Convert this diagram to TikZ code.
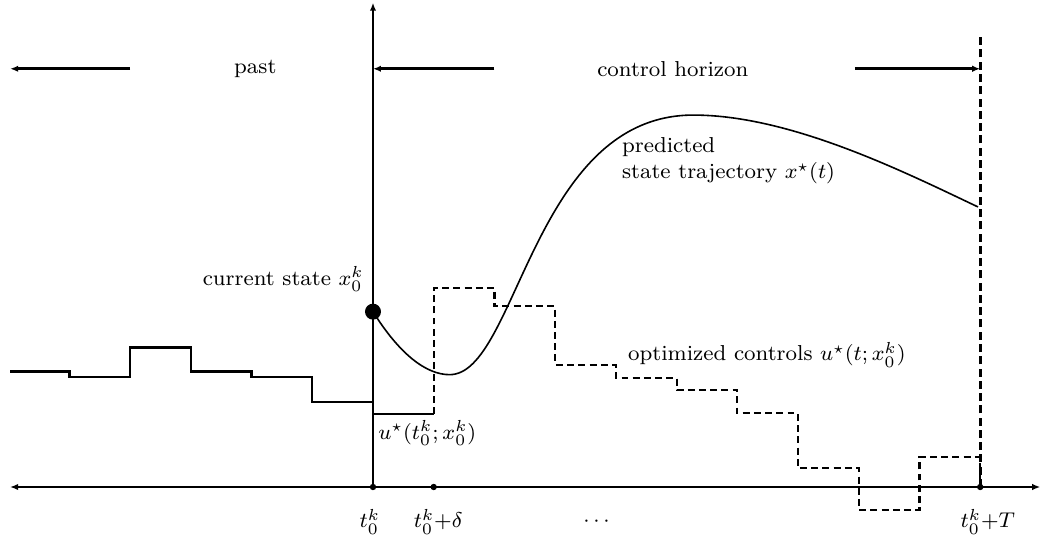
\documentclass[tikz,border=0pt]{standalone}
\usepackage{amsmath,amssymb}
\usetikzlibrary{arrows.meta}
\tikzset{
  axis/.style={line width=0.5pt,{Latex[length=3pt,width=2.4pt]}-{Latex[length=3pt,width=2.4pt]}},
  bar/.style={line width=1.1pt,-{Latex[length=3pt,width=2.4pt]}},
  horiz/.style={line width=1.1pt,dash pattern=on 3pt off 1.6pt},
  stairs/.style={line width=0.9pt},
  plan/.style={line width=0.8pt,dash pattern=on 2.6pt off 1.6pt},
  traj/.style={line width=0.6pt},
  lbl/.style={inner sep=1pt},
}
\begin{document}
\begin{tikzpicture}[font=\fontsize{8.1}{10}\selectfont]
  \useasboundingbox (-4.914,-0.764) rectangle (8.893,6.416);
  % time axis and horizon
  \coordinate (tl) at (-4.78,0);
  \coordinate (tr) at (8.79,0);
  \coordinate (t0) at (0,0);
  \coordinate (t1) at (0.8,0);
  \coordinate (tT) at (8,0);
  \coordinate (ytop) at (0,6.38);
  \coordinate (hT) at (8,5.98);
  \draw[axis] (tl) -- (tr);
  \draw[bar] (t0) -- (ytop);
  \draw[horiz] (tT) -- (hT);
  \foreach \p in {t0,t1,tT} \fill (\p) circle (1.2pt);
  \node[lbl] (lt0) at (-0.04,-0.46) {$t_0^k$};
  \node[lbl] (lt1) at (0.86,-0.46) {$t_0^k{+}\delta$};
  \node[lbl] (ldots) at (2.97,-0.46) {$\cdots$};
  \node[lbl] (ltT) at (8.1,-0.46) {$t_0^k{+}T$};
  % past / horizon arrows
  \node[lbl] (past) at (-1.55,5.51) {past};
  \node[lbl] (hor) at (3.95,5.51) {control horizon};
  \coordinate (pa) at (-3.2,5.51);
  \coordinate (pb) at (-4.78,5.51);
  \coordinate (ha) at (1.6,5.51);
  \coordinate (hb) at (0,5.51);
  \coordinate (hc) at (6.35,5.51);
  \coordinate (hd) at (8,5.51);
  \draw[bar] (pa) -- (pb);
  \draw[bar] (ha) -- (hb);
  \draw[bar] (hc) -- (hd);
  % past controls
  \draw[stairs] (-4.78,1.52) -| (-4.0,1.45) -| (-3.2,1.84) -| (-2.4,1.52)
    -| (-1.6,1.45) -| (-0.8,1.12) -- (0,1.12);
  \draw[stairs] (0,0.96) -- (0.8,0.96);
  % optimized controls
  \draw[plan] (0.8,0.96) |- (1.6,2.62) |- (2.4,2.38) |- (3.2,1.61) |- (4.0,1.44)
    |- (4.8,1.28) |- (5.6,0.97) |- (6.4,0.25) |- (7.2,-0.30) |- (8,0.39) -- (tT);
  % predicted state
  \node[circle,fill,inner sep=0pt,minimum size=6pt] (x0) at (0,2.31) {};
  \coordinate (xmin) at (1.01,1.48);
  \coordinate (xmax) at (4.22,4.90);
  \coordinate (xT) at (7.97,3.69);
  \draw[traj] (x0.center) .. controls (0.35,1.75) and (0.7,1.48) .. (xmin)
    .. controls (1.9,1.48) and (2.1,4.90) .. (xmax)
    .. controls (5.5,4.90) and (7.0,4.15) .. (xT);
  \node[lbl,anchor=east] (lx0) at (-0.08,2.74) {current state $x_0^k$};
  \node[lbl,anchor=west] (lu0) at (0.03,0.71) {$u^\star(t_0^k;x_0^k)$};
  \node[lbl,anchor=west] (lu) at (3.32,1.74) {optimized controls $u^\star(t;x_0^k)$};
  \node[lbl,anchor=west,align=left] (lx) at (3.24,4.30) {predicted\\state trajectory $x^\star(t)$};
\end{tikzpicture}
\end{document}
